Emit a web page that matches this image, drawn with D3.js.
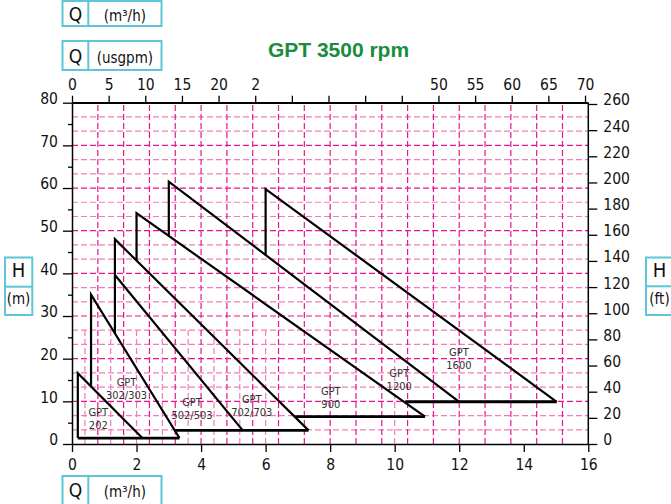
<!DOCTYPE html>
<html>
<head>
<meta charset="utf-8">
<script src="https://cdn.jsdelivr.net/npm/d3@7"></script>
<style>
  html, body { margin: 0; padding: 0; background: #fff; }
  svg { display: block; }
  .narrow { font-family: "Liberation Sans Narrow", "DejaVu Sans Condensed", "Arial Narrow", sans-serif; }
</style>
</head>
<body>
<svg id="chart" width="671" height="504"></svg>
<script>
// ---------------- DATA ----------------
const title = "GPT 3500 rpm";
const qTicks = [0, 2, 4, 6, 8, 10, 12, 14, 16];                 // m3/h
const hTicks = [0, 10, 20, 30, 40, 50, 60, 70, 80];             // m
const hMinorTicks = [5, 15, 25, 35, 45, 55, 65, 75];
const ftTicks = [0, 20, 40, 60, 80, 100, 120, 140, 160, 180, 200, 220, 240, 260];
const usgpmTicks = [0, 5, 10, 15, 20, 25, 30, 35, 40, 45, 50, 55, 60, 65, 70];
const usgpmLabels = ["0", "5", "10", "15", "20", "2", "", "", "", "", "50", "55", "60", "65", "70"];

// grid (in m3/h and m)
const gridQ = [0.8, 1.6, 2.4, 3.2, 4.0, 4.8, 5.6, 6.4, 7.2, 8.0, 8.8, 9.6, 10.4, 11.2, 12.0, 12.8, 13.6, 14.4, 15.2];
const gridQMid = [0.4, 1.2, 2.0, 2.8, 3.6, 4.4, 5.2, 6.0];
const gridQMidTop = 26.67;
const gridQExtra = [10.0];
const gridQExtraTop = 20;
const gridH = [3.33, 6.67, 10, 13.33, 16.67, 20, 23.33, 26.67, 30, 33.33, 36.67, 40, 43.33, 46.67, 50, 53.33, 56.67, 60, 63.33, 66.67, 70, 73.33, 76.67];

// pump ranges: polylines [Q (m3/h), H (m)]
const gpt202  = [[0.18, 1.4], [0.18, 16.6], [2.18, 1.4]];
const gpt302  = [[0.59, 13.5], [0.59, 35.0], [3.33, 1.4]];
const gpt502  = [[1.33, 39.6], [5.29, 3.2]];
const gpt702  = [[1.33, 25.9], [1.33, 48.0], [7.33, 3.2]];
const gpt900  = [[2.0, 43.0], [2.0, 54.1], [10.94, 6.4]];
const gpt1200 = [[3.0, 48.8], [3.0, 61.5], [12.0, 9.9]];
const gpt1600 = [[6.0, 44.3], [6.0, 59.75], [15.02, 9.9]];
const curves = [gpt202, gpt302, gpt502, gpt702, gpt900, gpt1200, gpt1600];

// minimum-head base lines
const baseLines = [
  [[0.18, 1.4], [3.33, 1.4]],
  [[3.18, 3.2], [7.33, 3.2]],
  [[6.9, 6.4], [10.94, 6.4]],
  [[10.33, 9.9], [15.02, 9.9]]
];

// model labels: [Q, H] of first line baseline centre
const labelNames = [["GPT", "202"], ["GPT", "302/303"], ["GPT", "502/503"], ["GPT", "702/703"], ["GPT", "900"], ["GPT", "1200"], ["GPT", "1600"]];
const labelPos = [[0.815, 6.5], [1.69, 13.55], [3.72, 9.0], [5.57, 9.7], [8.02, 11.6], [10.14, 15.75], [11.99, 20.6]];

// ---------------- CHART ----------------
const svg = d3.select("#chart");
const X0 = 72, X1 = 588.3, Y0 = 444, Y1 = 102.7;

const x = d3.scaleLinear().domain([0, 16]).range([X0, X1]);
const y = d3.scaleLinear().domain([0, 80]).range([Y0, Y1]);
const yFt = d3.scaleLinear().domain([0, 260]).range([Y0, 104]);
const xUs = d3.scaleLinear().domain([0, 16 * 4.4029]).range([X0, X1]);

const dark = "#e8168c", light = "#f27cbb";
const grid = svg.append("g").attr("fill", "none").attr("stroke-width", 1.2).attr("stroke-dasharray", "6,3");

grid.selectAll("line.h").data(gridH).enter().append("line")
  .attr("x1", X0).attr("x2", X1).attr("y1", d => y(d)).attr("y2", d => y(d))
  .attr("stroke", (d, i) => ((i + 1) % 3 === 0 ? dark : light));

grid.selectAll("line.v").data(gridQ).enter().append("line")
  .attr("x1", d => x(d)).attr("x2", d => x(d)).attr("y1", Y0).attr("y2", Y1)
  .attr("stroke", dark);

grid.selectAll("line.vm").data(gridQMid).enter().append("line")
  .attr("x1", d => x(d)).attr("x2", d => x(d)).attr("y1", Y0).attr("y2", y(gridQMidTop))
  .attr("stroke", light);

grid.selectAll("line.ve").data(gridQExtra).enter().append("line")
  .attr("x1", d => x(d)).attr("x2", d => x(d)).attr("y1", Y0).attr("y2", y(gridQExtraTop))
  .attr("stroke", light);

// frame lines (top + right)
svg.append("line").attr("x1", X0).attr("x2", X1).attr("y1", Y1).attr("y2", Y1).attr("stroke", "#000").attr("stroke-width", 1.5);
svg.append("line").attr("x1", X1).attr("x2", X1).attr("y1", Y1).attr("y2", Y0).attr("stroke", "#000").attr("stroke-width", 1.5);

// axes
function styleAxis(g, size) {
  g.selectAll(".domain").attr("stroke", "#000").attr("stroke-width", 1.5);
  g.selectAll(".tick line").attr("stroke", "#000").attr("stroke-width", 1.3);
  g.selectAll(".tick text").attr("class", "narrow").attr("fill", "#111").style("font-size", size + "px");
}

const gl = svg.append("g").attr("transform", `translate(${X0},0)`)
  .call(d3.axisLeft(y).tickValues(hTicks).tickSize(9).tickSizeOuter(0).tickPadding(5));
styleAxis(gl, 15.5);
gl.selectAll(".tick text").attr("y", -4);
const glm = svg.append("g").attr("transform", `translate(${X0},0)`)
  .call(d3.axisLeft(y).tickValues(hMinorTicks).tickSize(4).tickFormat(""));
glm.select(".domain").remove();
glm.selectAll(".tick line").attr("stroke", "#000").attr("stroke-width", 1.3);

const gr = svg.append("g").attr("transform", `translate(${X1},0)`)
  .call(d3.axisRight(yFt).tickValues(ftTicks).tickSize(9).tickSizeOuter(0).tickPadding(6));
styleAxis(gr, 15.5);
gr.select(".domain").remove();
gr.selectAll(".tick text").attr("y", -4);

const gb = svg.append("g").attr("transform", `translate(0,${Y0})`)
  .call(d3.axisBottom(x).tickValues(qTicks).tickSize(8).tickSizeOuter(0).tickPadding(7));
styleAxis(gb, 15.5);

const gt = svg.append("g").attr("transform", `translate(0,${Y1})`)
  .call(d3.axisTop(xUs).tickValues(usgpmTicks).tickSize(7).tickSizeOuter(0).tickPadding(6)
    .tickFormat((d, i) => usgpmLabels[i]));
styleAxis(gt, 15.5);

// pump curves
const line = d3.line().x(d => x(d[0])).y(d => y(d[1]));
svg.append("g").selectAll("path").data(curves).enter().append("path")
  .attr("d", line).attr("fill", "none").attr("stroke", "#000").attr("stroke-width", 2.2)
  .attr("stroke-linejoin", "miter");
svg.append("g").selectAll("path").data(baseLines).enter().append("path")
  .attr("d", line).attr("fill", "none").attr("stroke", "#000").attr("stroke-width", 2.8);

// labels (two separate text lines each)
const lab = svg.append("g").attr("class", "narrow").attr("fill", "#333").style("font-size", "11px").attr("text-anchor", "middle");
labelNames.forEach((names, i) => {
  lab.append("text").attr("x", x(labelPos[i][0])).attr("y", y(labelPos[i][1])).text(names[0]);
  lab.append("text").attr("x", x(labelPos[i][0])).attr("y", y(labelPos[i][1]) + 13).text(names[1]);
});

// title
svg.append("text").attr("x", 338.5).attr("y", 56.5).attr("text-anchor", "middle")
  .style("font-family", "'Liberation Sans', Arial, sans-serif").style("font-weight", "bold").style("font-size", "21px")
  .attr("fill", "#1a8c3e").text(title);

// unit boxes
const boxColor = "#5ec6d6";
function hBox(x0, y0, w, h, div, big, small, bigSize, smallSize, base) {
  const g = svg.append("g");
  g.append("rect").attr("x", x0).attr("y", y0).attr("width", w).attr("height", h)
    .attr("fill", "#fff").attr("stroke", boxColor).attr("stroke-width", 2);
  g.append("line").attr("x1", div).attr("x2", div).attr("y1", y0).attr("y2", y0 + h).attr("stroke", boxColor).attr("stroke-width", 2);
  g.append("text").attr("class", "narrow").attr("x", (x0 + div) / 2).attr("y", base).attr("text-anchor", "middle")
    .style("font-size", bigSize + "px").attr("fill", "#111").text(big);
  g.append("text").attr("class", "narrow").attr("x", (div + x0 + w) / 2).attr("y", base).attr("text-anchor", "middle")
    .style("font-size", smallSize + "px").attr("fill", "#111").text(small);
}
function vBox(x0, y0, w, h, div, big, small, bigBase, smallBase) {
  const g = svg.append("g");
  g.append("rect").attr("x", x0).attr("y", y0).attr("width", w).attr("height", h)
    .attr("fill", "#fff").attr("stroke", boxColor).attr("stroke-width", 2);
  g.append("line").attr("x1", x0).attr("x2", x0 + w).attr("y1", div).attr("y2", div).attr("stroke", boxColor).attr("stroke-width", 2);
  g.append("text").attr("class", "narrow").attr("x", x0 + 13.5).attr("y", bigBase).attr("text-anchor", "middle")
    .style("font-size", "20px").attr("fill", "#111").text(big);
  g.append("text").attr("class", "narrow").attr("x", x0 + 13.5).attr("y", smallBase).attr("text-anchor", "middle")
    .style("font-size", "15px").attr("fill", "#111").text(small);
}
hBox(62.5, 1, 99, 25, 88.3, "Q", "(m³/h)", 19, 15, 20.5);
hBox(62.5, 41, 99, 29, 88.3, "Q", "(usgpm)", 19, 15, 63.3);
hBox(62.5, 476, 99, 30, 88.3, "Q", "(m³/h)", 19, 15, 497.3);
vBox(5, 257.5, 27.3, 57.5, 286.7, "H", "(m)", 277.3, 304);
vBox(646, 257.5, 27.3, 57.5, 286.3, "H", "(ft)", 276.7, 304);
</script>
</body>
</html>
